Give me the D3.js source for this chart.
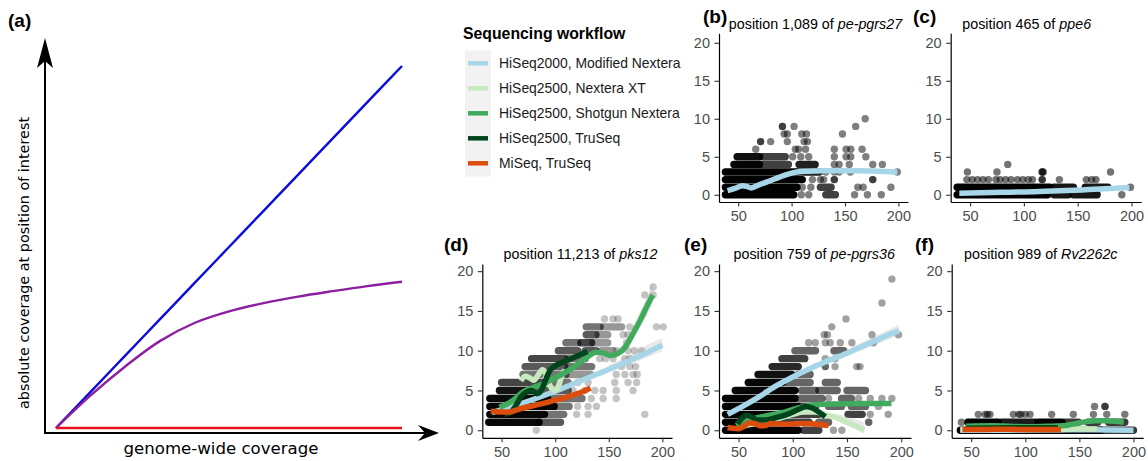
<!DOCTYPE html>
<html>
<head>
<meta charset="utf-8">
<script src="https://cdn.jsdelivr.net/npm/d3@7"></script>
<style>
body { margin: 0; background: #fff; }
svg { display: block; font-family: "Liberation Sans", Arial, sans-serif; }
</style>
</head>
<body>
<svg id="fig" width="1148" height="461"></svg>
<script>
// ---------- data ----------
var workflows = ["HiSeq2000, Modified Nextera", "HiSeq2500, Nextera XT", "HiSeq2500, Shotgun Nextera", "HiSeq2500, TruSeq", "MiSeq, TruSeq"];
var workflowColors = ["#a6d6e7", "#c7e9c0", "#41ab5d", "#00441b", "#dc4c0c"];

var xTicks = [50, 100, 150, 200];
var yTicks = [0, 5, 10, 15, 20];

// panel (a) schematic
var genomeCov       = [0, 0.1, 0.2, 0.3, 0.4, 0.5, 0.6, 0.7, 0.8, 0.9, 1.0];
var covProportional = [0, 0.1, 0.2, 0.3, 0.4, 0.5, 0.6, 0.7, 0.8, 0.9, 1.0];
var covSaturating   = [0, 0.09, 0.17, 0.24, 0.29, 0.322, 0.345, 0.363, 0.378, 0.392, 0.404];
var covNone         = [0, 0, 0, 0, 0, 0, 0, 0, 0, 0, 0];

// runs: [coverage, genomeCovStart, genomeCovEnd, overlapping samples]; points: [genomeCov, coverage]
var runsB = [[0,38,102,8],[0,132,141,2],[1,38,105,8],[1,127,137,2],[2,38,110,8],
  [3,38,104,8],[3,106,126,3],[4,46,70,6],[4,73,97,2],[4,107,122,3],[5,49,70,4],[5,73,94,2]];
var pointsB = [[109,0],[116,0],[159,0],[171,0],[184,0],
  [110,1],[118,1],[162,1],[167,1],[193,1],
  [119.5,2],[127,2],[130,2],[140,2],[140,2],[176,2],[176,2],
  [132,3],[140,3],[144.5,3],[155,3],[199,3],
  [140,4],[144.5,4],[154,4],[176,4],[185,4],
  [101,5],[108.6,5],[116,5],[140,5],[151,5],[155.4,5],[169.5,5],
  [66.4,6],[103.5,6],[106.5,6],[113,6],[140,6],[151,6],[155.4,6],[166,6],
  [71,7],[71,7],[80.4,7],[96,7],[111.7,7],[114.8,7],
  [93,8],[96,8],[109.5,8],[113.9,8],[147.6,8],
  [91.4,9],[91.4,9],[102.3,9],[160,9],[168.9,10]];
var fitB_mod = [[40,0.55],[47,0.85],[54,1.2],[58,1.1],[62,0.9],[67,1.15],[72,1.45],[80,1.85],[88,2.3],[96,2.7],[105,3.0],[115,3.1],[130,3.15],[160,3.15],[199,3.0]];

var runsC = [[0,38,122,8],[0,128,141,3],[0,146,168,3],[1,38,124,8],[1,128,146,3],[1,157,178,3]];
var pointsC = [[191,0],[199,1],
  [47,2],[52,2],[57,2],[62,2],[67,2],[74,2],[78,2],[83,2],[88,2],[94,2],[99,2],[104,2],[108,2],[117,2],[117,2],[133,2],[158,2],[163,2],[167,2],
  [47.5,3],[75,3],[117,3],[117,3],[118,3],[180.5,3],[85,4]];
var fitC_mod = [[40,0.2],[60,0.26],[80,0.32],[100,0.38],[120,0.45],[140,0.55],[160,0.68],[180,0.82],[198,0.96]];

var runsD = [[1,38,85,14],[1,85,105,4],[2,39,90,14],[2,92,108,3],[3,39,99,14],[3,102,113,3],
  [4,39,93,12],[4,96,125,3],[5,48,78,10],[5,80,112,4],[6,50,90,5],[6,98,112,3],
  [7,70,86,3],[7,95,110,3],[7,112,133,2],[8,72,109,4],[8,112,134,3],[9,78,109,5],[9,112,128,3],
  [10,103,121,4],[10,128,138,4],[10,143,154,2],[11,110,121,3],[11,124,134,5],[11,135,149,2],
  [12,129,138,4],[12,140,149,2],[13,129,142,3],[13,145,162,2]];
var pointsD = [[82.4,0],[120,2],[130.7,2],[183.6,2],[121,3],[130.7,3],[138.5,3],
  [133.8,4],[144.7,4],[157,4],[116.7,5],[127.6,5],[137,5],[144.7,5],[157,5],[172.7,5],
  [121,6],[130.7,6],[155.6,6],[168,6],[176,6],[157,7],[165,7],[172.7,7],[176.5,7],
  [162,8],[169.6,8],[175,8],[141.6,9],[147,9],[154,9],[165,9],[169.6,9],
  [157,10],[168,10],[174,10],[180.5,10],[166.5,11],[163.4,12],[168,12],
  [169.6,13],[194.5,13],[200.8,13],[146,14],[154,14],[158.7,14],[183.6,17],[191.4,17],[191.4,18]];
var fitD_mod = [[41,2.2],[60,3.0],[80,3.9],[100,4.9],[120,6.0],[140,7.1],[160,8.2],[180,9.4],[200,10.7]];
var fitD_xt = [[68,6.2],[72,6.8],[76,6.6],[80,6.3],[84,6.9],[88,7.6],[91,7.2],[94,6.0],[97,5.2],[100,5.0],[103,5.5],[106,6.8],[109,7.6]];
var fitD_shot = [[48,2.9],[55,3.3],[62,3.9],[70,4.8],[80,5.4],[90,5.9],[100,6.6],[110,7.3],[120,8.2],[130,9.2],[138,9.8],[145,9.7],[152,9.4],[158,9.6],[165,10.4],[172,12.0],[180,14.0],[186,15.7],[191,17.0]];
var fitD_tru = [[53,2.0],[58,2.2],[63,3.0],[68,4.2],[73,4.8],[78,5.0],[83,4.6],[87,5.0],[91,6.3],[95,7.5],[100,8.1],[110,8.7],[120,9.3],[130,9.9]];
var fitD_miseq = [[40,2.4],[50,2.3],[58,2.3],[65,2.6],[75,2.95],[85,3.25],[95,3.6],[105,3.95],[115,4.35],[125,4.8],[133,5.3]];
var bandD_shot = [[150,9.0,10.0],[165,9.8,11.0],[175,12.0,13.8],[185,14.2,16.6],[191,15.8,18.6]];
var bandD_mod = [[150,7.4,8.2],[170,8.3,9.5],[190,9.4,11.0],[200,9.9,11.6]];

var runsE = [[0,38,105,10],[0,110,124,3],[1,38,81,10],[1,82,115,3],[1,124,133,2],
  [2,38,93,10],[2,96,124,3],[2,151,164,3],[3,38,105,10],[3,105,121,3],[3,133,145,2],[3,154,167,2],
  [4,38,102,9],[4,105,127,2],[4,145,154,2],[5,47,102,8],[5,108,121,2],[5,124,141,2],[5,150,167,2],
  [6,59,91,8],[6,95,116,2],[6,130,141,2],[7,68,99,6],[7,105,116,2],[8,81,105,4],[9,90,111,3],
  [10,102,121,2],[10,138,147,2]];
var pointsE = [[137.6,0],[145.3,0],[170,1],[170,1],[171.4,2],[188,2],[179,3],
  [133,4],[160.7,4],[171.4,4],[182.2,4],[191.4,4],
  [130,8],[130,8],[139,8],[159,8],[162,8],[130,9],[139,9],
  [114.6,11],[120.7,11],[130,11],[134.5,11],[143.8,11],[154.5,11],[174.5,11],
  [129,12],[132,12],[173,12],[197.5,12],[136,13],[149,14],[182.2,16],[191.4,19]];
var fitE_mod = [[40,2.0],[55,3.1],[70,4.3],[85,5.6],[100,6.7],[115,7.7],[130,8.6],[145,9.4],[160,10.3],[175,11.2],[190,12.1],[198,12.5]];
var fitE_xt = [[50,0.3],[60,0.7],[70,1.0],[80,1.3],[90,1.6],[100,2.0],[110,2.3],[120,2.3],[130,2.0],[140,1.6],[150,1.0],[160,0.4],[166,0.0]];
var fitE_shot = [[48,0.6],[55,1.1],[65,1.5],[75,1.8],[90,2.2],[105,2.8],[120,3.2],[140,3.3],[160,3.35],[191,3.35]];
var fitE_tru = [[49,0.8],[53,1.5],[57,1.9],[62,1.7],[67,1.3],[75,1.3],[85,1.6],[95,2.0],[105,2.6],[112,3.0],[118,2.8],[124,2.3],[130,1.7]];
var fitE_miseq = [[40,0.35],[45,0.25],[50,0.2],[55,0.5],[60,0.9],[65,0.85],[70,0.55],[75,0.6],[80,0.85],[85,0.8],[95,0.75],[105,0.85],[115,0.85],[125,0.7],[133,0.6]];
var bandE_mod = [[150,9.3,10.1],[175,10.7,11.8],[198,11.9,13.2]];
var bandE_xt = [[140,1.2,2.0],[155,0.3,1.6],[166,-0.4,0.9]];

var runsF = [[0,40,170,8],[0,170,200,2],[1,47,75,6],[1,78,109,3],[1,112,134,6],[1,137,149,2],[1,158,167,2],[1,177,192,2]];
var pointsF = [[41,1],[56.6,2],[62.8,2],[65,2],[67.4,2],[89,2],[94,2],[96,2],[100,2],[104.4,2],
  [124.4,2],[144.4,2],[163,2],[175.3,2],[192,2],[164,3],[173.7,3],[173.7,3]];
var fitF_mod = [[40,0.0],[80,0.0],[120,0.05],[160,0.05],[200,0.0]];
var fitF_xt = [[40,0.1],[100,0.1],[135,0.1],[150,0.2],[166,0.15]];
var fitF_shot = [[45,0.5],[70,0.55],[100,0.45],[120,0.5],[135,0.55],[145,0.8],[155,1.05],[165,1.2],[175,1.2],[185,1.1],[191,1.0]];
var fitF_tru = [[45,0.25],[90,0.3],[130,0.3]];
var fitF_miseq = [[42,0.1],[60,0.1],[80,0.12],[100,0.1],[120,0.1],[133,0.1]];

// ---------- drawing ----------
var svg = d3.select("#fig");

function drawSchematic(){
	var g = svg.append("g").attr("class", "schematic");
	var x = d3.scaleLinear().domain([0, 1]).range([56, 402]);
	var y = d3.scaleLinear().domain([0, 1]).range([428, 66]);
	var line = d3.line()
		.x(function(d, i) { return x(genomeCov[i]); })
		.y(function(d) { return y(d); })
		.curve(d3.curveCatmullRom.alpha(0.5));

	// axes with arrow heads
	g.append("path").attr("d", "M45,434 V55").attr("stroke", "#000").attr("stroke-width", 2);
	g.append("path").attr("d", "M45,38 L37,68 L45,61 L53,68 Z").attr("fill", "#000");
	g.append("path").attr("d", "M44,433 H425").attr("stroke", "#000").attr("stroke-width", 2);
	g.append("path").attr("d", "M439,433 L418,425 L425,433 L418,441 Z").attr("fill", "#000");

	var series = [covProportional, covSaturating, covNone];
	var cols = ["#0b0bdc", "#8b1fa0", "#e8101e"];
	g.selectAll(".scenario").data(series).enter()
		.append("path")
		.attr("class", "scenario")
		.attr("d", function(d) { return line(d); })
		.attr("fill", "none")
		.attr("stroke", function(d, i) { return cols[i]; })
		.attr("stroke-width", 2.4);

	g.append("text").attr("x", 221).attr("y", 454)
		.attr("text-anchor", "middle")
		.style("font-family", "'DejaVu Sans', sans-serif").style("font-size", "16.6px")
		.text("genome-wide coverage");
	g.append("text").attr("transform", "translate(28.5,263) rotate(-90)")
		.attr("text-anchor", "middle")
		.style("font-family", "'DejaVu Sans', sans-serif").style("font-size", "14.4px")
		.text("absolute coverage at position of interest");
	g.append("text").attr("x", 8).attr("y", 27)
		.style("font-weight", "bold").style("font-size", "19px").text("(a)");
}

function drawLegend(){
	var g = svg.append("g").attr("class", "legend");
	g.append("text").attr("x", 463).attr("y", 38.5)
		.style("font-weight", "bold").style("font-size", "15.8px")
		.text("Sequencing workflow");
	g.append("rect").attr("x", 465).attr("y", 50.5).attr("width", 26).attr("height", 126)
		.attr("fill", "#f2f2f2");
	var rows = g.selectAll(".key").data(workflows).enter()
		.append("g").attr("class", "key")
		.attr("transform", function(d, i) { return "translate(0," + (63.3 + i * 25) + ")"; });
	rows.append("line").attr("x1", 468).attr("x2", 488)
		.attr("stroke", function(d, i) { return workflowColors[i]; })
		.attr("stroke-width", 4.5);
	rows.append("text").attr("x", 499).attr("dy", "0.36em")
		.style("font-size", "13.9px").attr("fill", "#1a1a1a")
		.text(function(d) { return d; });
}

class CoveragePanel{
	constructor(container, opts){
		this.opts = opts;
		this.r = 3.7;
		this.xScale = d3.scaleLinear().domain([32, 209]).range([opts.left, opts.right]);
		this.yScale = d3.scaleLinear().domain(opts.yDomain).range([opts.bottom, opts.top]);
		this.canvas = container.append("g").attr("class", "panel");
	}

	drawAxes(){
		var o = this.opts;
		var xAxisGroup = this.canvas.append("g")
			.attr("transform", "translate(0," + o.bottom + ")")
			.call(d3.axisBottom(this.xScale).tickValues(xTicks).tickSize(4.5).tickSizeOuter(0).tickPadding(4));
		var yAxisGroup = this.canvas.append("g")
			.attr("transform", "translate(" + o.left + ",0)")
			.call(d3.axisLeft(this.yScale).tickValues(yTicks).tickSize(4.5).tickSizeOuter(0).tickPadding(4.5));
		[xAxisGroup, yAxisGroup].forEach(function(a){
			a.attr("font-family", null).attr("font-size", null);
			a.select(".domain").attr("stroke", "#000").attr("stroke-width", 1.2);
			a.selectAll(".tick line").attr("stroke", "#333").attr("stroke-width", 1.1);
			a.selectAll(".tick text").attr("fill", "#4d4d4d").style("font-size", "14.5px");
		});
	}

	drawPoints(runs, points){
		var that = this;
		var a = this.opts.alpha;
		this.canvas.append("g").selectAll("line").data(runs).enter()
			.append("line")
			.attr("x1", function(d) { return that.xScale(d[1]); })
			.attr("x2", function(d) { return that.xScale(d[2]); })
			.attr("y1", function(d) { return that.yScale(d[0]); })
			.attr("y2", function(d) { return that.yScale(d[0]); })
			.attr("stroke", "#000")
			.attr("stroke-width", this.r * 2)
			.attr("stroke-linecap", "round")
			.attr("stroke-opacity", function(d) { return 1 - Math.pow(1 - a, d[3]); });
		this.canvas.append("g").selectAll("circle").data(points).enter()
			.append("circle")
			.attr("cx", function(d) { return that.xScale(d[0]); })
			.attr("cy", function(d) { return that.yScale(d[1]); })
			.attr("r", this.r)
			.attr("fill", "#000")
			.attr("fill-opacity", a);
	}

	drawFits(fits, bands){
		var that = this;
		var area = d3.area()
			.x(function(d) { return that.xScale(d[0]); })
			.y0(function(d) { return that.yScale(d[1]); })
			.y1(function(d) { return that.yScale(d[2]); })
			.curve(d3.curveMonotoneX);
		this.canvas.append("g").selectAll("path").data(bands || []).enter()
			.append("path")
			.attr("d", function(d) { return area(d); })
			.attr("fill", "#999").attr("fill-opacity", 0.22);

		var toline = d3.line()
			.x(function(d) { return that.xScale(d[0]); })
			.y(function(d) { return that.yScale(d[1]); })
			.curve(d3.curveMonotoneX);
		fits.forEach(function(f, i){
			if (!f) return;
			that.canvas.append("path")
				.attr("d", toline(f))
				.attr("fill", "none")
				.attr("stroke", workflowColors[i])
				.attr("stroke-width", 5.5);
		});
	}

	drawLabels(){
		var o = this.opts;
		this.canvas.append("text").attr("x", o.tagX).attr("y", o.tagY)
			.style("font-weight", "bold").style("font-size", "19px").text(o.tag);
		var t = this.canvas.append("text").attr("x", o.titleX).attr("y", o.titleY)
			.attr("text-anchor", "middle").style("font-size", "14.3px");
		t.append("tspan").text(o.title);
		t.append("tspan").style("font-style", "italic").text(o.gene);
	}
}

drawSchematic();
drawLegend();

var topRow = {top: 33.3, bottom: 202, yDomain: [-0.95, 21.25]};
var bottomRow = {top: 264, bottom: 437.8, yDomain: [-0.95, 20.9]};

var panels = [
	{left: 719, right: 908, tag: "(b)", tagX: 703, tagY: 22.5, title: "position 1,089 of ", gene: "pe-pgrs27", titleX: 815.5, titleY: 29, alpha: 0.5,
		runs: runsB, points: pointsB, fits: [fitB_mod], bands: [], row: topRow},
	{left: 950.7, right: 1141.2, tag: "(c)", tagX: 913, tagY: 22.5, title: "position 465 of ", gene: "ppe6", titleX: 1026.7, titleY: 29, alpha: 0.55,
		runs: runsC, points: pointsC, fits: [fitC_mod], bands: [], row: topRow},
	{left: 482.3, right: 672, tag: "(d)", tagX: 444, tagY: 251, title: "position 11,213 of ", gene: "pks12", titleX: 580.5, titleY: 259, alpha: 0.23,
		runs: runsD, points: pointsD, fits: [fitD_mod, fitD_xt, fitD_shot, fitD_tru, fitD_miseq], bands: [bandD_shot, bandD_mod], row: bottomRow},
	{left: 719, right: 911, tag: "(e)", tagX: 684, tagY: 251, title: "position 759 of ", gene: "pe-pgrs36", titleX: 814.2, titleY: 259, alpha: 0.37,
		runs: runsE, points: pointsE, fits: [fitE_mod, fitE_xt, fitE_shot, fitE_tru, fitE_miseq], bands: [bandE_mod, bandE_xt], row: bottomRow},
	{left: 951.7, right: 1143.2, tag: "(f)", tagX: 915, tagY: 251, title: "position 989 of ", gene: "Rv2262c", titleX: 1040.8, titleY: 259, alpha: 0.52,
		runs: runsF, points: pointsF, fits: [fitF_mod, fitF_xt, fitF_shot, fitF_tru, fitF_miseq], bands: [], row: bottomRow}
];

panels.forEach(function(p){
	p.top = p.row.top; p.bottom = p.row.bottom; p.yDomain = p.row.yDomain;
	var panel = new CoveragePanel(svg, p);
	panel.drawPoints(p.runs, p.points);
	panel.drawFits(p.fits, p.bands);
	panel.drawAxes();
	panel.drawLabels();
});
</script>
</body>
</html>
